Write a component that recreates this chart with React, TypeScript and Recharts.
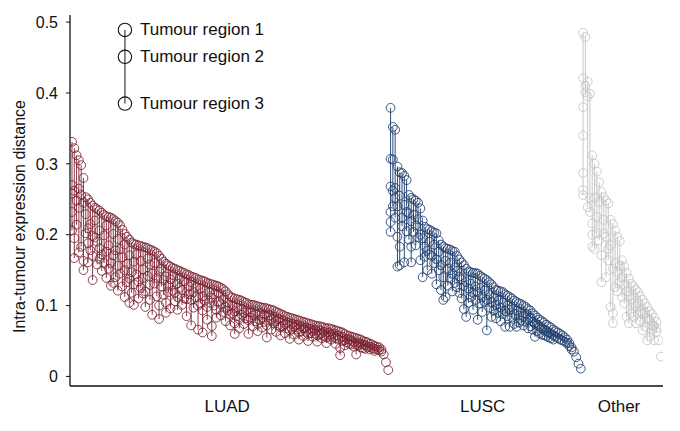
import React from 'react';
import { ScatterChart, Scatter, XAxis, YAxis, ErrorBar } from 'recharts';

const FONT = '"Liberation Sans", Arial, Helvetica, sans-serif';

// each tumour: [highest region distance, ...other regions]
const luad: number[][] = [
  [0.331, 0.27, 0.258, 0.232, 0.206], [0.322, 0.262, 0.195, 0.167], [0.312, 0.248, 0.214], [0.305, 0.265, 0.238, 0.175],
  [0.298, 0.256, 0.183], [0.28, 0.245, 0.163, 0.15], [0.253, 0.229, 0.202], [0.25, 0.209, 0.188, 0.161],
  [0.245, 0.215, 0.178], [0.241, 0.198, 0.17, 0.136], [0.238, 0.22, 0.196], [0.236, 0.19, 0.158],
  [0.234, 0.206, 0.181, 0.166], [0.231, 0.172, 0.149], [0.228, 0.199, 0.16], [0.226, 0.213, 0.176, 0.139],
  [0.225, 0.185, 0.152], [0.224, 0.16, 0.128], [0.222, 0.201, 0.171, 0.132], [0.219, 0.178, 0.14],
  [0.217, 0.194, 0.156, 0.121], [0.213, 0.18, 0.145], [0.207, 0.168, 0.127], [0.201, 0.186, 0.15, 0.112],
  [0.197, 0.159, 0.133], [0.193, 0.171, 0.138, 0.104], [0.189, 0.147, 0.118], [0.187, 0.162, 0.13, 0.101],
  [0.186, 0.172, 0.144], [0.185, 0.134, 0.11], [0.184, 0.163, 0.125], [0.183, 0.151, 0.139, 0.117],
  [0.182, 0.12, 0.098], [0.181, 0.166, 0.142], [0.179, 0.158, 0.129, 0.108], [0.178, 0.145, 0.087],
  [0.176, 0.16, 0.131], [0.174, 0.139, 0.113], [0.17, 0.148, 0.1, 0.081], [0.166, 0.152, 0.127],
  [0.162, 0.136, 0.115], [0.159, 0.141, 0.104, 0.09], [0.157, 0.128, 0.119], [0.155, 0.137, 0.096],
  [0.153, 0.143, 0.121], [0.152, 0.118, 0.106], [0.15, 0.131, 0.112, 0.094], [0.149, 0.139, 0.125],
  [0.147, 0.122, 0.101], [0.146, 0.134, 0.11], [0.144, 0.109, 0.085], [0.143, 0.127, 0.116],
  [0.141, 0.133, 0.108, 0.072], [0.14, 0.119, 0.097], [0.139, 0.126, 0.112], [0.137, 0.1, 0.066],
  [0.136, 0.124, 0.103], [0.135, 0.113, 0.093, 0.062], [0.134, 0.121, 0.107], [0.132, 0.098, 0.08],
  [0.131, 0.119, 0.104], [0.13, 0.111, 0.071, 0.057], [0.129, 0.116, 0.1], [0.128, 0.094, 0.083],
  [0.127, 0.117, 0.106], [0.125, 0.102, 0.086], [0.123, 0.109, 0.091], [0.12, 0.098, 0.078],
  [0.116, 0.104, 0.093], [0.113, 0.087, 0.072], [0.111, 0.1, 0.089], [0.11, 0.092, 0.075, 0.06],
  [0.109, 0.097, 0.085], [0.108, 0.081, 0.068], [0.107, 0.095, 0.087], [0.105, 0.09, 0.074],
  [0.104, 0.093, 0.082], [0.102, 0.079, 0.06], [0.101, 0.091, 0.083], [0.101, 0.086, 0.071],
  [0.1, 0.088, 0.078], [0.099, 0.074, 0.064], [0.098, 0.089, 0.08], [0.097, 0.083, 0.069],
  [0.097, 0.087, 0.077], [0.096, 0.072, 0.055], [0.095, 0.086, 0.079], [0.094, 0.08, 0.066],
  [0.093, 0.084, 0.075], [0.091, 0.078, 0.063], [0.09, 0.081, 0.072], [0.088, 0.07, 0.058],
  [0.087, 0.079, 0.071], [0.085, 0.074, 0.061], [0.084, 0.076, 0.068], [0.083, 0.065, 0.053],
  [0.082, 0.074, 0.067], [0.081, 0.07, 0.059], [0.08, 0.073, 0.066], [0.079, 0.062, 0.052],
  [0.078, 0.071, 0.064], [0.077, 0.068, 0.057], [0.076, 0.069, 0.063], [0.075, 0.06, 0.05],
  [0.074, 0.067, 0.061], [0.073, 0.064, 0.056], [0.072, 0.066, 0.06], [0.071, 0.058, 0.049],
  [0.071, 0.065, 0.059], [0.07, 0.061, 0.054], [0.069, 0.063, 0.057], [0.068, 0.055, 0.047],
  [0.068, 0.062, 0.056], [0.067, 0.059, 0.052], [0.066, 0.06, 0.055], [0.065, 0.054, 0.046],
  [0.064, 0.058, 0.053], [0.063, 0.04, 0.03], [0.062, 0.056, 0.05], [0.06, 0.051, 0.044],
  [0.058, 0.053, 0.048], [0.057, 0.052, 0.046], [0.056, 0.05, 0.045], [0.055, 0.048, 0.042],
  [0.054, 0.045, 0.031], [0.053, 0.048, 0.044], [0.052, 0.046, 0.041], [0.05, 0.045, 0.04],
  [0.049, 0.044, 0.039], [0.048, 0.041], [0.046, 0.042, 0.038], [0.045, 0.04],
  [0.043, 0.039, 0.036], [0.042, 0.038], [0.041, 0.037], [0.038, 0.035],
  [0.031], [0.02], [0.009],
];

const lusc: number[][] = [
  [0.379, 0.307, 0.268, 0.232, 0.218, 0.204], [0.352, 0.306, 0.262, 0.24], [0.348, 0.266, 0.252, 0.224], [0.296, 0.24, 0.197, 0.155],
  [0.288, 0.255, 0.183, 0.157], [0.287, 0.224, 0.212], [0.283, 0.242, 0.161], [0.277, 0.232, 0.205],
  [0.256, 0.23, 0.193], [0.252, 0.219, 0.183, 0.161], [0.25, 0.228, 0.204], [0.248, 0.213, 0.185],
  [0.245, 0.222, 0.196], [0.237, 0.2, 0.164], [0.22, 0.195, 0.14], [0.211, 0.183, 0.169],
  [0.208, 0.177, 0.15], [0.207, 0.19, 0.172], [0.205, 0.17, 0.145], [0.203, 0.186, 0.16],
  [0.202, 0.165, 0.13], [0.192, 0.176, 0.15], [0.186, 0.157, 0.122], [0.183, 0.14, 0.108],
  [0.181, 0.163, 0.112], [0.18, 0.152, 0.128], [0.179, 0.16, 0.138], [0.177, 0.145, 0.12],
  [0.176, 0.154, 0.132], [0.17, 0.149, 0.126], [0.165, 0.141, 0.118], [0.161, 0.137, 0.11],
  [0.157, 0.128, 0.095], [0.152, 0.133, 0.084], [0.148, 0.124, 0.104], [0.147, 0.131, 0.112],
  [0.146, 0.118, 0.094], [0.146, 0.127, 0.108], [0.145, 0.119, 0.08], [0.142, 0.125, 0.103],
  [0.14, 0.112, 0.091], [0.138, 0.121, 0.105], [0.136, 0.108, 0.065], [0.133, 0.116, 0.097],
  [0.13, 0.105, 0.084], [0.126, 0.111, 0.093], [0.122, 0.101, 0.082], [0.121, 0.107, 0.09],
  [0.12, 0.097, 0.078], [0.119, 0.104, 0.088], [0.116, 0.092, 0.07], [0.114, 0.1, 0.085],
  [0.112, 0.094, 0.07], [0.11, 0.098, 0.083], [0.107, 0.088, 0.074], [0.105, 0.093, 0.07],
  [0.103, 0.086, 0.076], [0.102, 0.091, 0.079], [0.1, 0.084, 0.072], [0.098, 0.088, 0.077],
  [0.095, 0.08, 0.068], [0.093, 0.083, 0.071], [0.089, 0.077, 0.066], [0.086, 0.075, 0.056],
  [0.083, 0.073, 0.064], [0.08, 0.07, 0.061], [0.078, 0.068, 0.059], [0.076, 0.066, 0.058],
  [0.073, 0.064, 0.057], [0.071, 0.062, 0.055], [0.069, 0.06, 0.054], [0.066, 0.058, 0.052],
  [0.064, 0.056], [0.062, 0.054], [0.06, 0.052], [0.058, 0.051],
  [0.055, 0.049], [0.052, 0.047], [0.047, 0.043], [0.041, 0.038],
  [0.035], [0.027], [0.018], [0.011],
];

const other: number[][] = [
  [0.485, 0.421, 0.38, 0.34, 0.287, 0.263, 0.256], [0.479, 0.41, 0.401], [0.416, 0.395, 0.239], [0.399, 0.252, 0.232],
  [0.312, 0.216, 0.2, 0.183], [0.3, 0.252, 0.18], [0.289, 0.225, 0.202], [0.274, 0.246, 0.192],
  [0.26, 0.171, 0.133], [0.253, 0.221, 0.202], [0.248, 0.197, 0.14], [0.244, 0.18, 0.164],
  [0.221, 0.185, 0.098], [0.215, 0.152, 0.089, 0.075], [0.206, 0.16, 0.126], [0.197, 0.147, 0.12],
  [0.191, 0.156, 0.133], [0.164, 0.14, 0.112], [0.155, 0.129, 0.103], [0.146, 0.12, 0.084],
  [0.138, 0.114, 0.075], [0.131, 0.109, 0.089], [0.127, 0.103, 0.084], [0.123, 0.098, 0.075],
  [0.119, 0.104, 0.089], [0.113, 0.092, 0.078], [0.108, 0.088, 0.065], [0.103, 0.09, 0.07],
  [0.098, 0.082, 0.051], [0.092, 0.079, 0.056], [0.088, 0.072, 0.065], [0.083, 0.071, 0.051],
  [0.077, 0.068, 0.063], [0.051], [0.028],
];

const groupNames = ['LUAD', 'LUSC', 'Other'];
const groupColors = ['#7a2232', '#1f3d6b', '#c4c4c4'];
const groupLineColors = ['#8c3b4a', '#2f4c78', '#c8c8c8'];
const yTicks = [0, 0.1, 0.2, 0.3, 0.4, 0.5];

const legendLabels = ['Tumour region 1', 'Tumour region 2', 'Tumour region 3'];
const legendValues = [0.489, 0.451, 0.385];
const LEGEND_X = 23.1;

type Pt = { x: number; y: number; err?: [number, number]; label?: string };

const groupsData = [luad, lusc, other];
let idx = 0;
const groups = groupsData.map((tumours, g) => {
  const start = idx;
  const tops: Pt[] = [];
  const rest: Pt[] = [];
  tumours.forEach((t) => {
    const mn = Math.min(...t);
    tops.push({ x: idx, y: t[0], err: [t[0] - mn, 0] });
    t.slice(1).forEach((v) => rest.push({ x: idx, y: v }));
    idx += 1;
  });
  return { name: groupNames[g], color: groupColors[g], line: groupLineColors[g], tops, rest, center: (start + idx - 1) / 2 };
});
const total = idx;

const legendData: Pt[] = legendValues.map((v, i) => ({
  x: LEGEND_X,
  y: v,
  label: legendLabels[i],
  err: i === 0 ? [legendValues[0] - legendValues[legendValues.length - 1], 0] : [0, 0],
}));

const circleShape = (color: string) => (props: any) => {
  if (props.cx == null || props.cy == null) return <g />;
  return <circle cx={props.cx} cy={props.cy} r={4.4} fill="none" stroke={color} strokeWidth={0.85} />;
};

const legendShape = (props: any) => {
  if (props.cx == null || props.cy == null) return <g />;
  return (
    <g>
      <circle cx={props.cx} cy={props.cy} r={6.7} fill="none" stroke="#111" strokeWidth={1.1} />
      <text x={props.cx + 15} y={props.cy} dominantBaseline="central" fontSize={17} fontFamily={FONT} fill="#111">
        {props.payload.label}
      </text>
    </g>
  );
};

const YLabel = (props: any) => {
  const vb = props.viewBox || { x: 0, y: 15, width: 70, height: 371 };
  const cx = vb.x + 19;
  const cy = vb.y + vb.height / 2 + 16;
  return (
    <text x={cx} y={cy} transform={`rotate(-90, ${cx}, ${cy})`} textAnchor="middle" dominantBaseline="central" fontSize={16} fontFamily={FONT} fill="#111">
      Intra-tumour expression distance
    </text>
  );
};

const tickName = (v: number) => {
  const g = groups.find((gr) => Math.abs(gr.center - v) < 0.01);
  return g ? g.name : '';
};

export default function App() {
  return (
    <div style={{ marginLeft: -8, marginTop: -8, background: '#fff', width: 680, height: 431 }}>
      <ScatterChart width={680} height={431} margin={{ top: 15, right: 17, bottom: 15, left: 0 }}>
        <XAxis
          type="number"
          dataKey="x"
          height={30}
          domain={[-0.87, total - 1 + 0.87]}
          allowDataOverflow
          ticks={groups.map((g) => g.center)}
          tickFormatter={tickName}
          tickLine={false}
          tickMargin={8}
          axisLine={{ stroke: '#111', strokeWidth: 1.3 }}
          tick={{ fontSize: 17, fontFamily: FONT, fill: '#111', dx: -3 }}
          interval={0}
        />
        <YAxis
          type="number"
          dataKey="y"
          width={70}
          domain={[-0.0135, 0.51]}
          allowDataOverflow
          ticks={yTicks}
          tickFormatter={(v: number) => (v === 0 ? '0' : v.toFixed(1))}
          tickSize={4}
          tickMargin={8}
          axisLine={{ stroke: '#111', strokeWidth: 1.3 }}
          tickLine={{ stroke: '#111' }}
          tick={{ fontSize: 16, fontFamily: FONT, fill: '#111' }}
          interval={0}
          label={<YLabel />}
        />
        {groups.map((g) => (
          <Scatter key={`top-${g.name}`} data={g.tops} shape={circleShape(g.color)} isAnimationActive={false}>
            <ErrorBar dataKey="err" direction="y" width={0} stroke={g.line} strokeWidth={1} />
          </Scatter>
        ))}
        {groups.map((g) => (
          <Scatter key={`rest-${g.name}`} data={g.rest} shape={circleShape(g.color)} isAnimationActive={false} />
        ))}
        <Scatter data={legendData} shape={legendShape} isAnimationActive={false}>
          <ErrorBar dataKey="err" direction="y" width={0} stroke="#555" strokeWidth={1.4} />
        </Scatter>
      </ScatterChart>
    </div>
  );
}
